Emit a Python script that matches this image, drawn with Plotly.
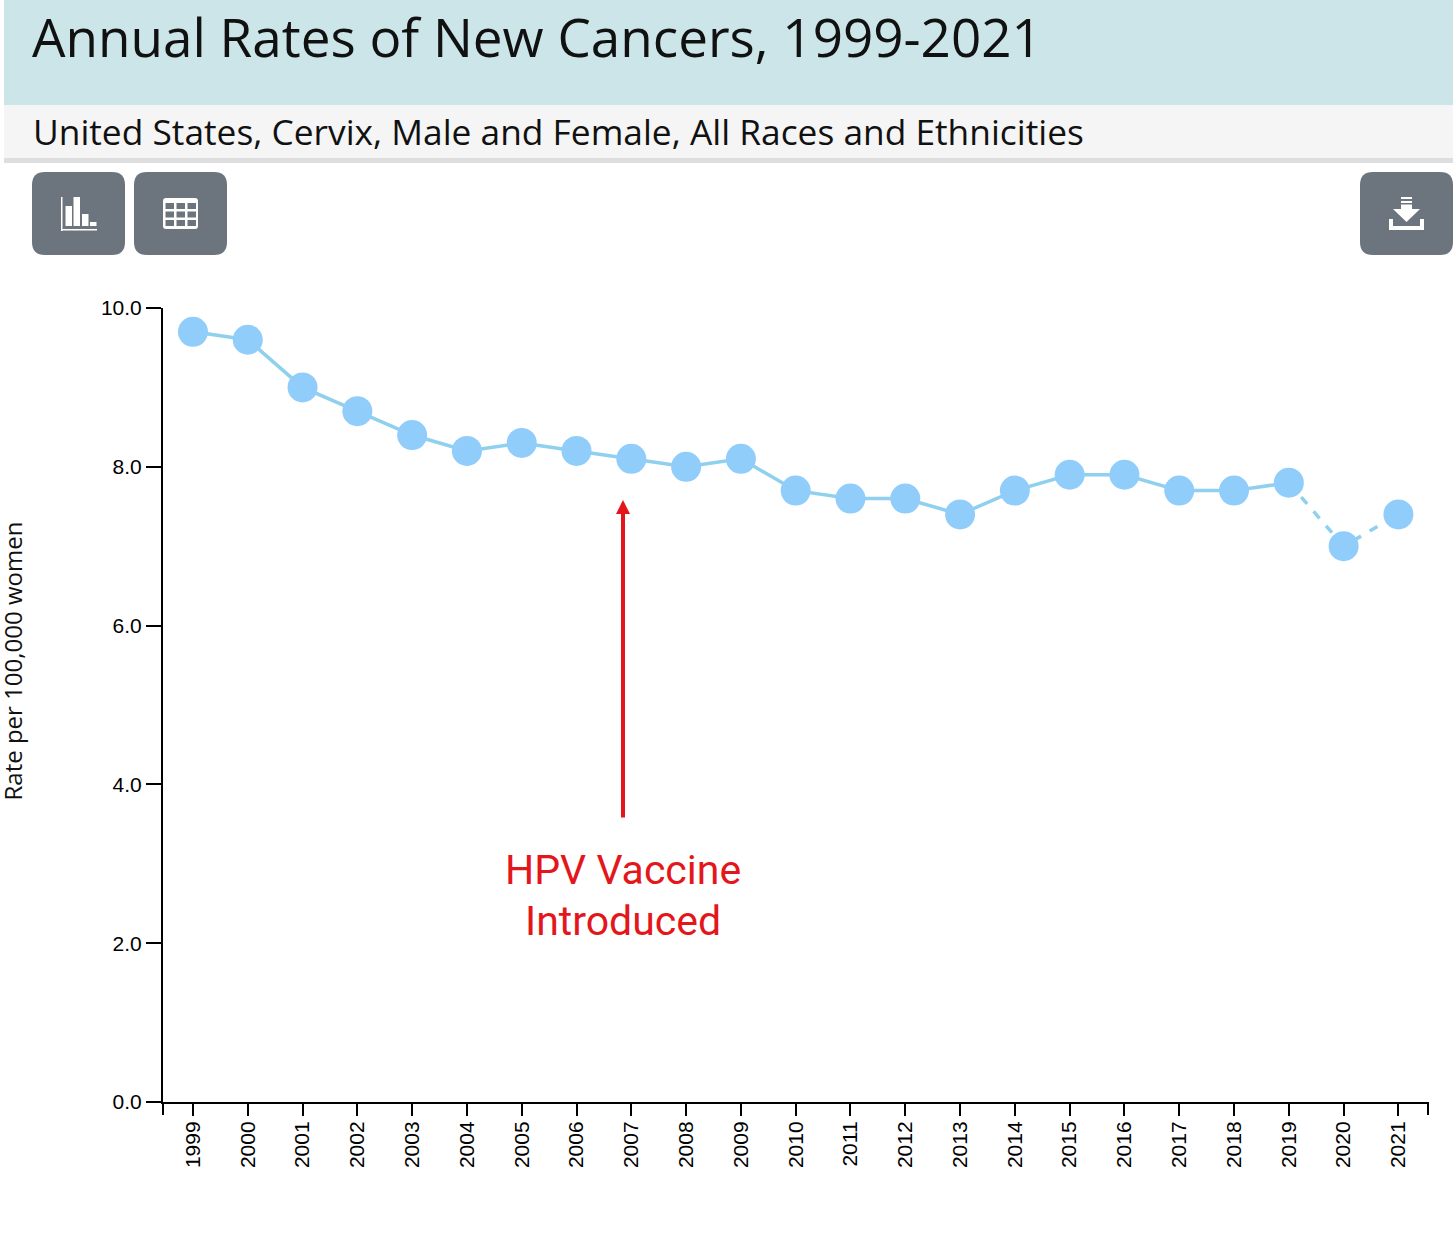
import plotly.graph_objs as go

W = 1456
H = 1237

years = [1999, 2000, 2001, 2002, 2003, 2004, 2005, 2006, 2007, 2008, 2009, 2010,
         2011, 2012, 2013, 2014, 2015, 2016, 2017, 2018, 2019, 2020, 2021]
rates = [9.7, 9.6, 9.0, 8.7, 8.4, 8.2, 8.3, 8.2, 8.1, 8.0, 8.1, 7.7,
         7.6, 7.6, 7.4, 7.7, 7.9, 7.9, 7.7, 7.7, 7.8, 7.0, 7.4]
y_ticks = [0, 2, 4, 6, 8, 10]
y_labels = ["0.0", "2.0", "4.0", "6.0", "8.0", "10.0"]

title = "Annual Rates of New Cancers, 1999-2021"
subtitle = "United States, Cervix, Male and Female, All Races and Ethnicities"
y_title = "Rate per 100,000 women"

LINE = "#8fd0ee"
DOT = "#90cdfa"
GREY = "#6c757d"
RED = "#e3171b"


# page pixels -> paper coords
def px(x):
    return x / W


def py(y):
    return 1 - y / H


def box(x0, y0, x1, y1, color):
    return dict(type="rect", xref="paper", yref="paper", x0=px(x0), x1=px(x1),
                y0=py(y1), y1=py(y0), fillcolor=color, line_width=0, layer="below")


def rounded(x0, y0, x1, y1, r, color):
    d = (f"M {px(x0 + r)} {py(y0)} L {px(x1 - r)} {py(y0)} "
         f"Q {px(x1)} {py(y0)} {px(x1)} {py(y0 + r)} L {px(x1)} {py(y1 - r)} "
         f"Q {px(x1)} {py(y1)} {px(x1 - r)} {py(y1)} L {px(x0 + r)} {py(y1)} "
         f"Q {px(x0)} {py(y1)} {px(x0)} {py(y1 - r)} L {px(x0)} {py(y0 + r)} "
         f"Q {px(x0)} {py(y0)} {px(x0 + r)} {py(y0)} Z")
    return dict(type="path", xref="paper", yref="paper", path=d, fillcolor=color, line_width=0)


def poly(points, color):
    d = "M " + " L ".join(f"{px(a)} {py(b)}" for a, b in points) + " Z"
    return dict(type="path", xref="paper", yref="paper", path=d, fillcolor=color, line_width=0)


def icon(x0, y0, x1, y1):
    s = box(x0, y0, x1, y1, "white")
    s["layer"] = "above"
    return s


shapes = [
    box(4, 0, 1453, 105, "#cbe5e8"),
    box(4, 105, 1453, 158, "#f5f5f5"),
    box(4, 158, 1453, 163, "#dedede"),
    rounded(32, 172, 125, 255, 13, GREY),
    rounded(134, 172, 227, 255, 13, GREY),
    rounded(1360, 172, 1453, 255, 13, GREY),
    # chart icon
    icon(61, 197, 62.5, 231),
    icon(61, 229, 97, 230.5),
    icon(65.5, 206, 72, 226),
    icon(73.5, 197, 80, 226),
    icon(82, 214, 88.5, 226),
    icon(90, 222, 96.5, 226),
    # table icon
    rounded(163, 198, 198, 229, 3, "white"),
]
# table cells
for c in range(3):
    for r in range(3):
        shapes.append(box(165.5 + c * 11, 203 + r * 8.5, 174 + c * 11, 209 + r * 8.5, GREY))
        shapes[-1]["layer"] = "above"
# download icon
shapes += [
    icon(1401, 197, 1412, 199),
    icon(1401, 201, 1412, 203),
    icon(1401, 204.5, 1412, 209),
    poly([(1393, 209), (1420, 209), (1406.5, 222)], "white"),
    poly([(1389, 219), (1393, 219), (1393, 226), (1420, 226), (1420, 219), (1424, 219),
          (1424, 230), (1389, 230)], "white"),
    # d3 style axis ends below / right of the corner
    dict(type="line", xref="paper", yref="paper", x0=px(163), x1=px(163), y0=py(1102), y1=py(1115),
         line=dict(color="black", width=2)),
    dict(type="line", xref="paper", yref="paper", x0=px(1428), x1=px(1428), y0=py(1102), y1=py(1115),
         line=dict(color="black", width=2)),
]

fig = go.Figure()
fig.add_trace(go.Scatter(x=years[:21], y=rates[:21], mode="lines",
                         line=dict(color=LINE, width=3.5), hoverinfo="skip"))
fig.add_trace(go.Scatter(x=years[20:], y=rates[20:], mode="lines",
                         line=dict(color=LINE, width=3.5, dash="9px,10px"), hoverinfo="skip"))
fig.add_trace(go.Scatter(x=years, y=rates, mode="markers",
                         marker=dict(color=DOT, size=30)))

annotations = [
    dict(text=title, x=px(30), y=py(37), xref="paper", yref="paper", xanchor="left", yanchor="middle",
         showarrow=False, font=dict(family="Open Sans", size=53, color="#111111")),
    dict(text=subtitle, x=px(30.5), y=py(131), xref="paper", yref="paper", xanchor="left", yanchor="middle",
         showarrow=False, font=dict(family="Open Sans", size=35.3, color="#111111")),
    dict(text=y_title, x=px(11.5), y=py(661), xref="paper", yref="paper", xanchor="center", yanchor="middle",
         textangle=-90, showarrow=False, font=dict(family="Open Sans", size=24, color="#111111")),
    dict(text="HPV Vaccine", x=px(623), y=py(870), xref="paper", yref="paper", xanchor="center", yanchor="middle",
         showarrow=False, font=dict(family="Roboto", size=41, color=RED)),
    dict(text="Introduced", x=px(623), y=py(921), xref="paper", yref="paper", xanchor="center", yanchor="middle",
         showarrow=False, font=dict(family="Roboto", size=41, color=RED)),
    dict(text="", x=px(623), y=py(500), ax=0, ay=319, xref="paper", yref="paper",
         axref="pixel", ayref="pixel", showarrow=True, arrowhead=2, arrowsize=0.7, arrowwidth=4,
         arrowcolor=RED),
]

fig.update_layout(
    width=W, height=H, margin=dict(l=0, r=0, t=0, b=0, autoexpand=False),
    paper_bgcolor="white", plot_bgcolor="white", showlegend=False,
    shapes=shapes, annotations=annotations,
    xaxis=dict(domain=[px(163), px(1428)], range=[1998.453, 2021.54], tickmode="array",
               tickvals=years, ticktext=[str(v) for v in years], tickangle=-90,
               ticks="outside", ticklen=12, tickwidth=2, tickcolor="black", ticklabelstandoff=-3,
               showgrid=False, zeroline=False, showline=True, linecolor="black", linewidth=2,
               tickfont=dict(family="Liberation Sans", size=21, color="black")),
    yaxis=dict(domain=[py(1102), py(308)], range=[0, 10], tickmode="array",
               tickvals=y_ticks, ticktext=y_labels,
               ticks="outside", ticklen=15, tickwidth=2, tickcolor="black",
               showgrid=False, zeroline=False, showline=True, linecolor="black", linewidth=2,
               tickfont=dict(family="Liberation Sans", size=21, color="black")),
)

# default body margin would push everything 8px in
fig.write_html("out.html", config=dict(displayModeBar=False),
               post_script="document.body.style.margin='0';")
